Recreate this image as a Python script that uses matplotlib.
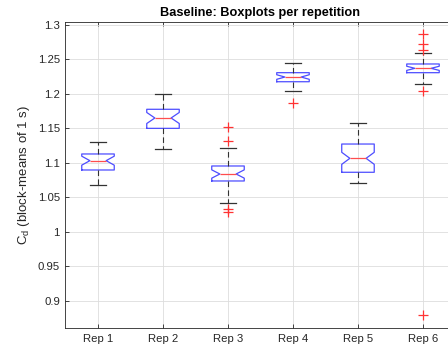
import matplotlib
matplotlib.use('Agg')
import matplotlib.pyplot as plt

plt.rcParams['font.family'] = ['Liberation Sans', 'DejaVu Sans']
plt.rcParams['mathtext.fontset'] = 'custom'
plt.rcParams['mathtext.rm'] = 'Liberation Sans'

labels = ['Rep 1', 'Rep 2', 'Rep 3', 'Rep 4', 'Rep 5', 'Rep 6']
medians = [1.1032, 1.1650, 1.0839, 1.2243, 1.1066, 1.2369]
q1 = [1.0897, 1.1500, 1.0738, 1.2175, 1.0864, 1.2306]
q3 = [1.1129, 1.1776, 1.0955, 1.2306, 1.1273, 1.2432]
whislo = [1.0675, 1.1197, 1.0423, 1.2045, 1.0704, 1.2138]
whishi = [1.1307, 1.1993, 1.1211, 1.2441, 1.1582, 1.2596]
ci_half = [0.0065, 0.0080, 0.0060, 0.0033, 0.0087, 0.0030]
fliers = [[], [], [1.1524, 1.1317, 1.0328, 1.0293], [1.1871], [],
          [1.2862, 1.2717, 1.2634, 1.2045, 0.8793]]

stats = []
for i in range(len(labels)):
    stats.append(dict(med=medians[i], q1=q1[i], q3=q3[i],
                      whislo=whislo[i], whishi=whishi[i],
                      cilo=medians[i] - ci_half[i], cihi=medians[i] + ci_half[i],
                      fliers=fliers[i], label=labels[i]))

fig = plt.figure(figsize=(4.48, 3.54), dpi=100)
ax = fig.add_axes([0.1462, 0.0726, 0.8705, 0.8653])

ax.bxp(stats, positions=range(1, 7), widths=0.5, shownotches=True,
       boxprops=dict(color='#4d4dff', linewidth=0.9),
       medianprops=dict(color='#ff4d4d', linewidth=0.9),
       whiskerprops=dict(color='#333333', linewidth=0.8, linestyle=(0, (5, 3))),
       capprops=dict(color='#333333', linewidth=0.9),
       flierprops=dict(marker='+', markeredgecolor='#ff3333', markersize=6.5,
                       markeredgewidth=0.9, linestyle='none'))

ax.set_xlim(0.5, 6.5)
ax.set_ylim(0.8605, 1.304)
ax.set_yticks([0.9, 0.95, 1.0, 1.05, 1.1, 1.15, 1.2, 1.25, 1.3])
ax.set_yticklabels(['0.9', '0.95', '1', '1.05', '1.1', '1.15', '1.2', '1.25', '1.3'])
ax.grid(True, color='#dddddd', linewidth=0.6)
ax.set_axisbelow(True)
ax.tick_params(direction='in', top=True, right=True, length=3, width=0.6,
               labelsize=8.2, colors='#262626', pad=4)
for s in ax.spines.values():
    s.set_color('#262626')
    s.set_linewidth(0.6)

ax.set_title('Baseline: Boxplots per repetition', fontsize=9.2, fontweight='bold', pad=4)
ax.set_ylabel(r'C$_{\mathrm{d}}$ (block-means of 1 s)', fontsize=9.5, color='#262626',
              labelpad=4)

fig.savefig('out.png', dpi=100)
